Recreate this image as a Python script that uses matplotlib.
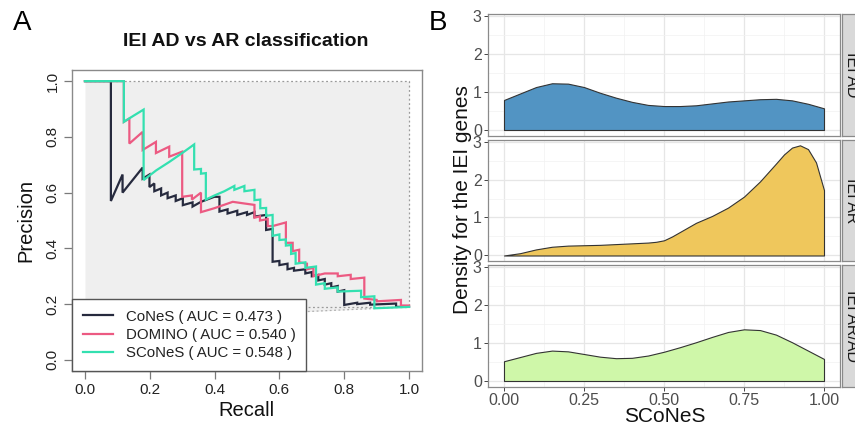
import numpy as np
import matplotlib
matplotlib.use("Agg")
import matplotlib.pyplot as plt

plt.rcParams['font.family'] = ['Liberation Sans', 'DejaVu Sans']

# ---- panel A : precision-recall curves ----
cones_r = [0, 0.08, 0.08, 0.116, 0.116, 0.178, 0.178, 0.199, 0.199, 0.214, 0.214, 0.235, 0.235,
           0.255, 0.255, 0.28, 0.28, 0.302, 0.302, 0.332, 0.332, 0.358, 0.399, 0.415, 0.415,
           0.44, 0.44, 0.47, 0.47, 0.50, 0.50, 0.523, 0.523, 0.559, 0.559, 0.579, 0.579,
           0.60, 0.60, 0.625, 0.625, 0.645, 0.645, 0.68, 0.68, 0.70, 0.70, 0.72, 0.72,
           0.74, 0.74, 0.76, 0.76, 0.78, 0.78, 0.80, 0.80, 0.84, 0.84, 0.88, 0.88, 0.96, 0.96, 1.0]
cones_p = [1, 1, 0.57, 0.665, 0.60, 0.69, 0.65, 0.665, 0.62, 0.633, 0.605, 0.615, 0.59,
           0.60, 0.58, 0.59, 0.57, 0.58, 0.555, 0.565, 0.55, 0.567, 0.585, 0.585, 0.532,
           0.54, 0.525, 0.535, 0.52, 0.53, 0.52, 0.53, 0.514, 0.52, 0.466, 0.47, 0.352,
           0.355, 0.34, 0.345, 0.325, 0.33, 0.32, 0.325, 0.31, 0.315, 0.30, 0.305, 0.285,
           0.29, 0.27, 0.275, 0.26, 0.265, 0.245, 0.25, 0.197, 0.205, 0.20, 0.205, 0.198, 0.202, 0.19, 0.19]

domino_r = [0, 0.12, 0.12, 0.137, 0.137, 0.178, 0.178, 0.219, 0.219, 0.26, 0.26, 0.30, 0.30,
            0.33, 0.33, 0.358, 0.358, 0.399, 0.456, 0.492, 0.523, 0.523, 0.54, 0.54, 0.564, 0.564,
            0.579, 0.62, 0.62, 0.641, 0.641, 0.661, 0.661, 0.685, 0.685, 0.705, 0.705, 0.74,
            0.78, 0.78, 0.82, 0.82, 0.862, 0.862, 0.90, 0.90, 0.975, 0.975, 1.0]
domino_p = [1, 1, 0.854, 0.866, 0.776, 0.818, 0.753, 0.782, 0.742, 0.765, 0.729, 0.747, 0.585,
            0.59, 0.575, 0.60, 0.53, 0.544, 0.567, 0.561, 0.556, 0.51, 0.515, 0.50, 0.505, 0.48,
            0.48, 0.493, 0.42, 0.42, 0.39, 0.395, 0.35, 0.345, 0.325, 0.33, 0.30, 0.31,
            0.31, 0.30, 0.305, 0.29, 0.295, 0.22, 0.215, 0.21, 0.215, 0.195, 0.195]

scones_r = [0, 0.12, 0.12, 0.15, 0.181, 0.181, 0.22, 0.26, 0.30, 0.337, 0.337, 0.358, 0.358,
            0.373, 0.373, 0.40, 0.43, 0.461, 0.461, 0.492, 0.492, 0.523, 0.523, 0.541, 0.541,
            0.559, 0.559, 0.579, 0.579, 0.60, 0.60, 0.62, 0.62, 0.636, 0.636, 0.65, 0.65,
            0.68, 0.68, 0.713, 0.713, 0.74, 0.74, 0.78, 0.78, 0.852, 0.852, 0.893, 0.893, 1.0]
scones_p = [1, 1, 0.854, 0.876, 0.898, 0.645, 0.68, 0.71, 0.742, 0.773, 0.683, 0.685, 0.668,
            0.67, 0.575, 0.59, 0.605, 0.624, 0.61, 0.624, 0.605, 0.61, 0.573, 0.575, 0.544,
            0.545, 0.517, 0.52, 0.445, 0.45, 0.43, 0.432, 0.41, 0.412, 0.38, 0.383, 0.345,
            0.35, 0.33, 0.335, 0.27, 0.275, 0.255, 0.26, 0.245, 0.248, 0.225, 0.228, 0.185, 0.19]

pr_labels = ["CoNeS ( AUC = 0.473 )", "DOMINO ( AUC = 0.540 )", "SCoNeS ( AUC = 0.548 )"]
pr_colors = ["#262a3e", "#ec5a82", "#33e0b0"]

# bounds of achievable PR region and random baseline
bound_r = [0, 1]
bound_min = [0.137, 0.19]
baseline = 0.19

# ---- panel B : SCoNeS density per group ----
dens_x = [0, 0.05, 0.1, 0.15, 0.2, 0.25, 0.3, 0.35, 0.4, 0.45, 0.5,
          0.55, 0.6, 0.65, 0.7, 0.75, 0.8, 0.85, 0.9, 0.95, 1.0]
dens_ad = [0.79, 0.96, 1.13, 1.23, 1.22, 1.13, 0.98, 0.85, 0.74, 0.66, 0.63,
           0.63, 0.65, 0.70, 0.75, 0.78, 0.81, 0.82, 0.78, 0.69, 0.57]
dens_ar_x = [0, 0.05, 0.1, 0.15, 0.2, 0.25, 0.3, 0.35, 0.4, 0.45, 0.475, 0.5, 0.525, 0.55, 0.6,
             0.65, 0.7, 0.75, 0.8, 0.85, 0.875, 0.9, 0.925, 0.95, 0.975, 1.0]
dens_ar = [0.0, 0.06, 0.16, 0.23, 0.26, 0.27, 0.28, 0.30, 0.32, 0.34, 0.36, 0.40, 0.50, 0.62, 0.86,
           1.04, 1.26, 1.55, 1.95, 2.42, 2.66, 2.84, 2.9, 2.80, 2.45, 1.72]
dens_arad = [0.52, 0.63, 0.74, 0.80, 0.78, 0.71, 0.64, 0.60, 0.61, 0.67, 0.77,
             0.89, 1.02, 1.16, 1.29, 1.36, 1.34, 1.22, 1.02, 0.80, 0.58]
groups = ["IEI AD", "IEI AR", "IEI AR/AD"]
group_colors = ["#5294c3", "#efc75c", "#cff7a9"]

W, H = 855, 428
fig = plt.figure(figsize=(W / 100, H / 100), dpi=100)

# ================= panel A =================
ax = fig.add_axes([72 / W, 1 - 371 / H, 350 / W, 301 / H])
ax.fill_between(bound_r, bound_min, [1, 1], color="#efefef", lw=0, zorder=0)
ax.plot([0, 1, 1], [1, 1, baseline], color="#9a9a9a", lw=0.9, ls=(0, (1.5, 2)), zorder=1)
ax.plot([0, 1], [baseline, baseline], color="#9a9a9a", lw=0.9, ls=(0, (1.5, 2)), zorder=1)
ax.plot(bound_r, bound_min, color="#b0b0b0", lw=0.9, ls=(0, (1.5, 2)), zorder=1)

for r, p, lab, c in zip([cones_r, domino_r, scones_r], [cones_p, domino_p, scones_p],
                        pr_labels, pr_colors):
    ax.plot(r, p, color=c, lw=1.6, label=lab, zorder=3, solid_joinstyle="miter")

ax.set_xlim(-0.04, 1.04)
ax.set_ylim(-0.04, 1.04)
ax.set_xticks([0, 0.2, 0.4, 0.6, 0.8, 1.0])
ax.set_yticks([0, 0.2, 0.4, 0.6, 0.8, 1.0])
ax.set_xticklabels(["0.0", "0.2", "0.4", "0.6", "0.8", "1.0"])
ax.set_yticklabels(["0.0", "0.2", "0.4", "0.6", "0.8", "1.0"], rotation=90, va="center")
ax.tick_params(length=6, width=0.9, color="#7a7a7a", labelsize=11, labelcolor="#222222", pad=3)
for s in ax.spines.values():
    s.set_color("#8a8a8a")
    s.set_linewidth(1.0)

leg = ax.legend(loc="lower left", bbox_to_anchor=(0, 0), borderaxespad=0, fancybox=False,
                framealpha=1, edgecolor="#555555", fontsize=10.8, handlelength=2.0,
                handletextpad=0.9, borderpad=0.7, labelspacing=0.3)
leg.get_frame().set_linewidth(1.0)
leg.set_zorder(5)
for t in leg.get_texts():
    t.set_color("#222222")

fig.text(246 / W, 1 - 41 / H, "IEI AD vs AR classification", ha="center", va="center",
         fontsize=14, fontweight="bold", color="#111111")
fig.text(246 / W, 1 - 410 / H, "Recall", ha="center", va="center", fontsize=14.5, color="#111111")
fig.text(26 / W, 1 - 220 / H, "Precision", ha="center", va="center", rotation=90,
         fontsize=14.5, color="#111111")
fig.text(22 / W, 1 - 23 / H, "A", ha="center", va="center", fontsize=20)
fig.text(438 / W, 1 - 23 / H, "B", ha="center", va="center", fontsize=20)

# ================= panel B =================
tops = [14.3, 139.8, 265.3]
ph = 121.2
px0, px1 = 488, 840
series = [(dens_x, dens_ad), (dens_ar_x, dens_ar), (dens_x, dens_arad)]
for i, (top, (xs, ys), g, c) in enumerate(zip(tops, series, groups, group_colors)):
    a = fig.add_axes([px0 / W, 1 - (top + ph) / H, (px1 - px0) / W, ph / H])
    a.set_xlim(-0.05, 1.05)
    a.set_ylim(-0.145, 3.045)
    a.set_xticks([0, 0.25, 0.5, 0.75, 1.0])
    a.set_xticks([0.125, 0.375, 0.625, 0.875], minor=True)
    a.set_yticks([0, 1, 2, 3])
    a.set_yticks([0.5, 1.5, 2.5], minor=True)
    a.grid(True, which="major", color="#e6e6e6", lw=0.9)
    a.grid(True, which="minor", color="#f2f2f2", lw=0.5)
    a.set_axisbelow(True)
    a.fill_between(xs, ys, 0, facecolor=c, edgecolor="#333333", lw=0.8, zorder=2)
    a.tick_params(which="major", length=3, width=0.7, color="#444444", labelsize=11.5,
                  labelcolor="#4d4d4d", pad=1.5)
    a.tick_params(which="minor", length=0)
    if i < 2:
        a.set_xticklabels([])
        a.tick_params(axis="x", length=0)
    else:
        a.set_xticklabels(["0.00", "0.25", "0.50", "0.75", "1.00"])
    for s in a.spines.values():
        s.set_color("#8a8a8a")
        s.set_linewidth(0.9)

    st = fig.add_axes([842 / W, 1 - (top + ph) / H, 30 / W, ph / H])
    st.set_facecolor("#d9d9d9")
    st.set_xticks([])
    st.set_yticks([])
    for s in st.spines.values():
        s.set_color("#8a8a8a")
        s.set_linewidth(0.9)
    fig.text(851 / W, 1 - (top + ph / 2) / H, g, rotation=-90, ha="center", va="center",
             fontsize=11.5, color="#1a1a1a")

fig.text(462 / W, 1 - 200 / H, "Density for the IEI genes", rotation=90, ha="center",
         va="center", fontsize=15, color="#111111")
fig.text(665 / W, 1 - 416 / H, "SCoNeS", ha="center", va="center", fontsize=15, color="#111111")

fig.savefig("out.png", dpi=100)
